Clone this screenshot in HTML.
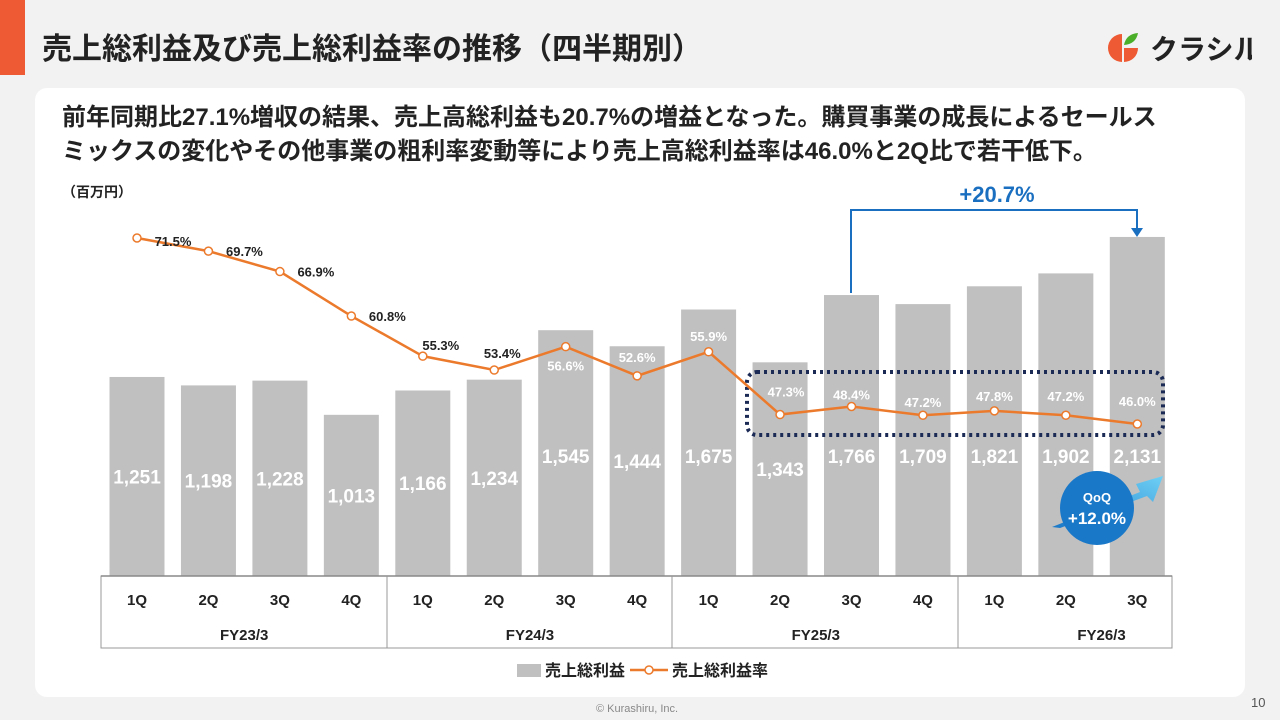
<!DOCTYPE html>
<html><head><meta charset="utf-8"><style>
body{margin:0;width:1280px;height:720px;background:#f2f2f2;font-family:"Liberation Sans","Noto Sans CJK JP",sans-serif;overflow:hidden;position:relative}
.abs{position:absolute}
</style></head><body>
<div class="abs" style="left:0;top:0;width:25px;height:75px;background:#ee5a33"></div>
<div class="abs" style="left:42px;top:24px;font-size:30px;font-weight:bold;color:#222;white-space:nowrap">売上総利益及び売上総利益率の推移（四半期別）</div>
<div class="abs" style="left:1102px;top:28px;width:150px;height:40px">
<svg width="150" height="40"><path d="M20 6 A14 14 0 1 0 20 34 L20 20 Z" fill="#ee5a33"/><path d="M22 20 L36 20 A14 14 0 0 1 22 34 Z" fill="#ee5a33"/><path d="M22 17 Q24 6 36 5 Q34 16 22 17Z" fill="#4caf2a"/>
<text x="48" y="31" font-size="28" font-weight="bold" fill="#222" font-family="Noto Sans CJK JP, sans-serif">クラシル</text></svg></div>
<div class="abs" style="left:35px;top:88px;width:1210px;height:609px;background:#fff;border-radius:12px"></div>
<div class="abs" style="left:62px;top:101px;font-size:24px;font-weight:bold;color:#222;line-height:34px;white-space:nowrap">前年同期比27.1%増収の結果、売上高総利益も20.7%の増益となった。購買事業の成長によるセールス<br>ミックスの変化やその他事業の粗利率変動等により売上高総利益率は46.0%と2Q比で若干低下。</div>
<div class="abs" style="left:62px;top:182px;font-size:14px;font-weight:bold;color:#222">（百万円）</div>
<svg class="abs" id="chart" style="left:0;top:0" width="1280" height="720"></svg>
<div class="abs" style="left:596px;top:703px;font-size:11px;color:#888">© Kurashiru, Inc.</div>
<div class="abs" style="left:1251px;top:695px;font-size:13px;color:#555">10</div>
<script>
const quarters=["1Q","2Q","3Q","4Q","1Q","2Q","3Q","4Q","1Q","2Q","3Q","4Q","1Q","2Q","3Q"];
const years=["FY23/3","FY24/3","FY25/3","FY26/3"];
const grossProfit=[1251,1198,1228,1013,1166,1234,1545,1444,1675,1343,1766,1709,1821,1902,2131];
const marginPct=[71.5,69.7,66.9,60.8,55.3,53.4,56.6,52.6,55.9,47.3,48.4,47.2,47.8,47.2,46.0];
const marginLabelOff=[[36,3,"#222"],[36,0,"#222"],[36,0,"#222"],[36,0,"#222"],[18,-11,"#222"],[8,-17,"#222"],[0,19,"#fff"],[0,-19,"#fff"],[0,-16,"#fff"],[6,-23,"#fff"],[0,-12,"#fff"],[0,-13,"#fff"],[0,-15,"#fff"],[0,-19,"#fff"],[0,-23,"#fff"]];
const NS="http://www.w3.org/2000/svg";
const svg=document.getElementById('chart');
const base=576;
const xC=i=>137+i*71.45;
const yV=v=>base-v*0.1591;
const yP=p=>238+(71.5-p)*7.294;
function mk(t,a,txt){const e=document.createElementNS(NS,t);for(const k in a)e.setAttribute(k,a[k]);if(txt!=null)e.textContent=txt;svg.appendChild(e);return e;}
grossProfit.forEach((v,i)=>{
 const r=mk('rect',{x:xC(i)-27.5,y:yV(v),width:55,height:base-yV(v),fill:'#c0c0c0'});
 
 
 const h=base-yV(v);
 const t=mk('text',{x:xC(i),y:base-Math.min(h*0.5,120)+7,'text-anchor':'middle','font-size':19,'font-weight':'bold',fill:'#fff'},v.toLocaleString('en-US'));
 
 
});
const db=mk('rect',{x:747,y:372,width:416,height:63,rx:10,fill:'none',stroke:'#1b2a55','stroke-width':4,'stroke-dasharray':'3 4'});


const pts=marginPct.map((p,i)=>xC(i)+','+yP(p)).join(' ');
const pl=mk('polyline',{points:pts,fill:'none',stroke:'#ec7a2c','stroke-width':2.5});


marginPct.forEach((p,i)=>{
 const c=mk('circle',{cx:xC(i),cy:yP(p),r:4,fill:'#fff',stroke:'#ec7a2c','stroke-width':1.5});
 
 
 const o=marginLabelOff[i];
 const t=mk('text',{x:xC(i)+o[0],y:yP(p)+o[1]+5,'text-anchor':'middle','font-size':13,'font-weight':'bold',fill:o[2]},p.toFixed(1)+'%');
 
 
});
mk('rect',{x:101,y:576,width:1071,height:72,fill:'none',stroke:'#999','stroke-width':1});
mk('line',{x1:101,y1:576,x2:1172,y2:576,stroke:'#888','stroke-width':1.5});
[387,672,958].forEach(x=>mk('line',{x1:x,y1:576,x2:x,y2:648,stroke:'#999'}));
quarters.forEach((q,i)=>{const t=mk('text',{x:xC(i),y:605,'text-anchor':'middle','font-size':15,'font-weight':'bold',fill:'#222'},q);
 
 });
years.forEach((y,j)=>{const t=mk('text',{x:xC(j*4+1.5),y:640,'text-anchor':'middle','font-size':15,'font-weight':'bold',fill:'#222'},y);
 
 });
mk('polyline',{points:'851,293 851,210 1137,210 1137,230',fill:'none',stroke:'#1a6fc0','stroke-width':2});
mk('polygon',{points:'1131,228 1143,228 1137,237',fill:'#1a6fc0'});
const yy=mk('text',{x:997,y:202,'text-anchor':'middle','font-size':22,'font-weight':'bold',fill:'#1a6fc0'},'+20.7%');


const dfs=mk('defs',{});dfs.innerHTML='<linearGradient id="g" x1="0" y1="1" x2="1" y2="0"><stop offset="0" stop-color="#1a78c8"/><stop offset="1" stop-color="#6fd0f5"/></linearGradient>';
mk('polygon',{points:'1052,527 1140,492 1136,484 1163,476 1153,502 1147,496 1060,528',fill:'url(#g)'});
mk('circle',{cx:1097,cy:508,r:37,fill:'#1a78c8'});
mk('text',{x:1097,y:502,'text-anchor':'middle','font-size':13,'font-weight':'bold',fill:'#fff'},'QoQ');
const qq=mk('text',{x:1097,y:524,'text-anchor':'middle','font-size':17,'font-weight':'bold',fill:'#fff'},'+12.0%');


mk('rect',{x:517,y:664,width:24,height:13,fill:'#c0c0c0'});
mk('text',{x:545,y:676,'font-size':16,'font-weight':'bold',fill:'#222'},'売上総利益');
mk('line',{x1:630,y1:670,x2:668,y2:670,stroke:'#ec7a2c','stroke-width':2.5});
mk('circle',{cx:649,cy:670,r:4,fill:'#fff',stroke:'#ec7a2c','stroke-width':1.5});
mk('text',{x:672,y:676,'font-size':16,'font-weight':'bold',fill:'#222'},'売上総利益率');
</script>
</body></html>
